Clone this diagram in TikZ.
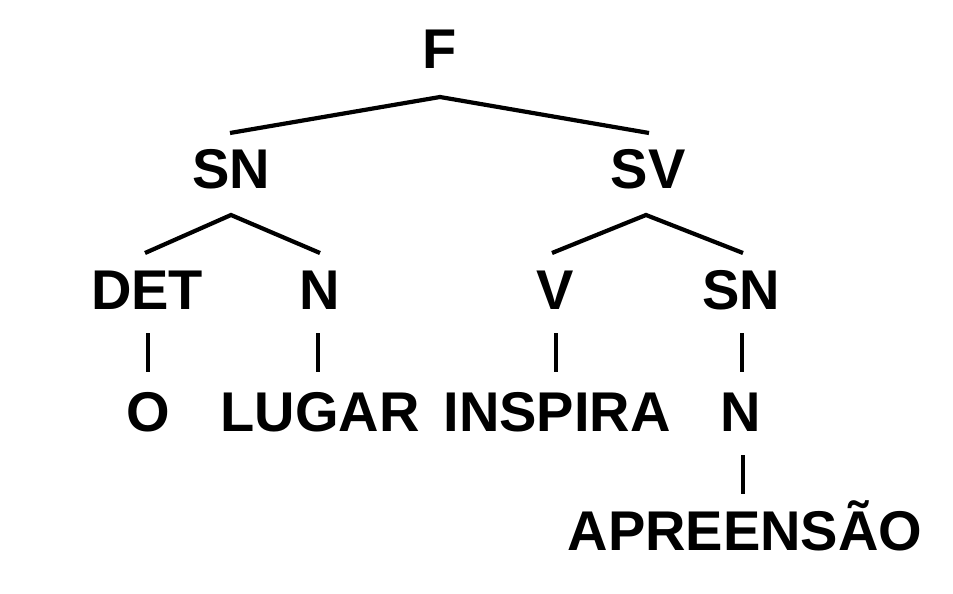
\documentclass[tikz,border=0pt]{standalone}
\usepackage{fontspec}
\setmainfont{Liberation Sans}
\begin{document}
\begin{tikzpicture}[x=1pt,y=-1pt,
  lbl/.style={anchor=base,inner sep=0pt,font=\fontsize{56}{60}\selectfont\bfseries},
  edge/.style={line width=4.2pt}]
\useasboundingbox (0,0) rectangle (953,594);
% labels
\node[lbl] (F)   at (440,68)  {F};
\node[lbl] (SN1) at (231,188) {SN};
\node[lbl] (SV)  at (648,188) {SV};
\node[lbl] (DET) at (147,309) {DET};
\node[lbl] (N1)  at (320,309) {N};
\node[lbl] (V)   at (555,309) {V};
\node[lbl] (SN2) at (741,309) {SN};
\node[lbl] (O)   at (148,431) {O};
\node[lbl] (LUG) at (320,431) {LUGAR};
\node[lbl] (INS) at (557,431) {INSPIRA};
\node[lbl] (N2)  at (741,431) {N};
\node[lbl] (APR) at (745,550) {APREENSÃO};
% connector points
\coordinate (F-b)   at (440,97);
\coordinate (SN1-t) at (230,133);
\coordinate (SV-t)  at (649,133);
\coordinate (SN1-b) at (231,215);
\coordinate (DET-t) at (145,253);
\coordinate (N1-t)  at (320,253);
\coordinate (SV-b)  at (646,215);
\coordinate (V-t)   at (552,253);
\coordinate (SN2-t) at (743,253);
\coordinate (DET-b) at (148,333);
\coordinate (O-t)   at (148,372);
\coordinate (N1-b)  at (318,333);
\coordinate (LUG-t) at (318,372);
\coordinate (V-b)   at (556,333);
\coordinate (INS-t) at (556,372);
\coordinate (SN2-b) at (742,333);
\coordinate (N2-t)  at (742,372);
\coordinate (N2-b)  at (743,455);
\coordinate (APR-t) at (743,494);
% connectors
\draw[edge] (SN1-t) -- (F-b) -- (SV-t);
\draw[edge] (DET-t) -- (SN1-b) -- (N1-t);
\draw[edge] (V-t) -- (SV-b) -- (SN2-t);
\draw[edge] (DET-b) -- (O-t);
\draw[edge] (N1-b) -- (LUG-t);
\draw[edge] (V-b) -- (INS-t);
\draw[edge] (SN2-b) -- (N2-t);
\draw[edge] (N2-b) -- (APR-t);
\end{tikzpicture}
\end{document}
